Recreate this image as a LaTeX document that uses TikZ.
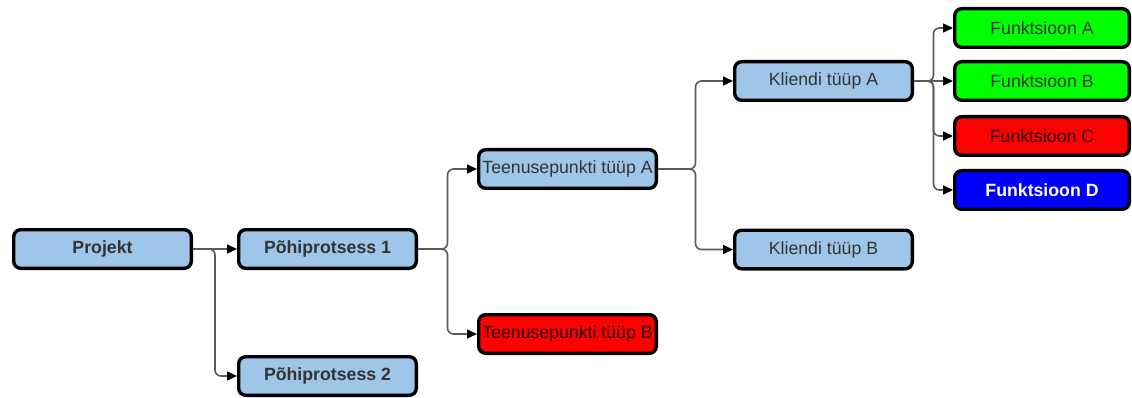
\documentclass[tikz,border=0pt]{standalone}
\usepackage{fontspec}
\setmainfont{Liberation Sans}
\usetikzlibrary{arrows.meta,calc}
\definecolor{boxblue}{HTML}{9FC5E8}
\definecolor{wire}{HTML}{5A5A5A}
\definecolor{ink}{HTML}{333333}
\begin{document}
\begin{tikzpicture}[x=1pt,y=-1pt,
  box/.style={draw=black, line width=3.4pt, rounded corners=7pt,
    minimum width=177.6pt, minimum height=38.6pt, inner sep=0pt,
    font=\fontsize{17.7}{19}\selectfont, text=ink},
  fbox/.style={box, minimum width=174.6pt},
  bluebox/.style={box, fill=boxblue},
  greenbox/.style={fbox, fill={rgb,255:red,0;green,255;blue,0}},
  redbox/.style={fill={rgb,255:red,255;green,0;blue,0}, text=black!85!red},
  navybox/.style={fbox, fill={rgb,255:red,0;green,0;blue,255}, text=white},
  conn/.style={draw=wire, line width=1.6pt, rounded corners=6pt,
    -{Triangle[length=10pt,width=9pt,color=black]}}
]
\useasboundingbox (0,0) rectangle (1132,398);

% tree nodes
\node[bluebox] (pk) at (102.5,249) {\bfseries Projekt};
\node[bluebox] (p1) at (327.5,249) {\bfseries Põhiprotsess 1};
\node[bluebox] (p2) at (327.5,376) {\bfseries Põhiprotsess 2};
\node[bluebox] (ta) at (567.5,169) {Teenusepunkti tüüp A};
\node[box, redbox] (tb) at (567.5,334) {Teenusepunkti tüüp B};
\node[bluebox] (ka) at (823.5,81) {Kliendi tüüp A};
\node[bluebox] (kb) at (823.5,249.5) {Kliendi tüüp B};
\node[greenbox] (fa) at (1042,28) {Funktsioon A};
\node[greenbox] (fb) at (1042,81) {Funktsioon B};
\node[fbox, redbox] (fc) at (1042,136) {Funktsioon C};
\node[navybox] (fd) at (1042,190) {\bfseries Funktsioon D};

% fork points halfway between parent and children
\coordinate (m1) at ($(pk.east)!.5!(p1.west)$);
\coordinate (m2) at ($(p1.east)!.5!(ta.west)$);
\coordinate (m3) at ($(ta.east)!.5!(ka.west)$);
\coordinate (m4) at ($(ka.east)!.5!(fa.west)$);

% elbow connectors
\draw[conn] (pk.east) -- (p1.west);
\draw[conn] (pk.east) -- (m1 |- pk.east) |- (p2.west);
\draw[conn] (p1.east) -- (m2 |- p1.east) |- (ta.west);
\draw[conn] (p1.east) -- (m2 |- p1.east) |- (tb.west);
\draw[conn] (ta.east) -- (m3 |- ta.east) |- (ka.west);
\draw[conn] (ta.east) -- (m3 |- ta.east) |- (kb.west);
\draw[conn] (ka.east) -- (m4 |- ka.east) |- (fa.west);
\draw[conn] (ka.east) -- (fb.west);
\draw[conn] (ka.east) -- (m4 |- ka.east) |- (fc.west);
\draw[conn] (ka.east) -- (m4 |- ka.east) |- (fd.west);
\end{tikzpicture}
\end{document}
